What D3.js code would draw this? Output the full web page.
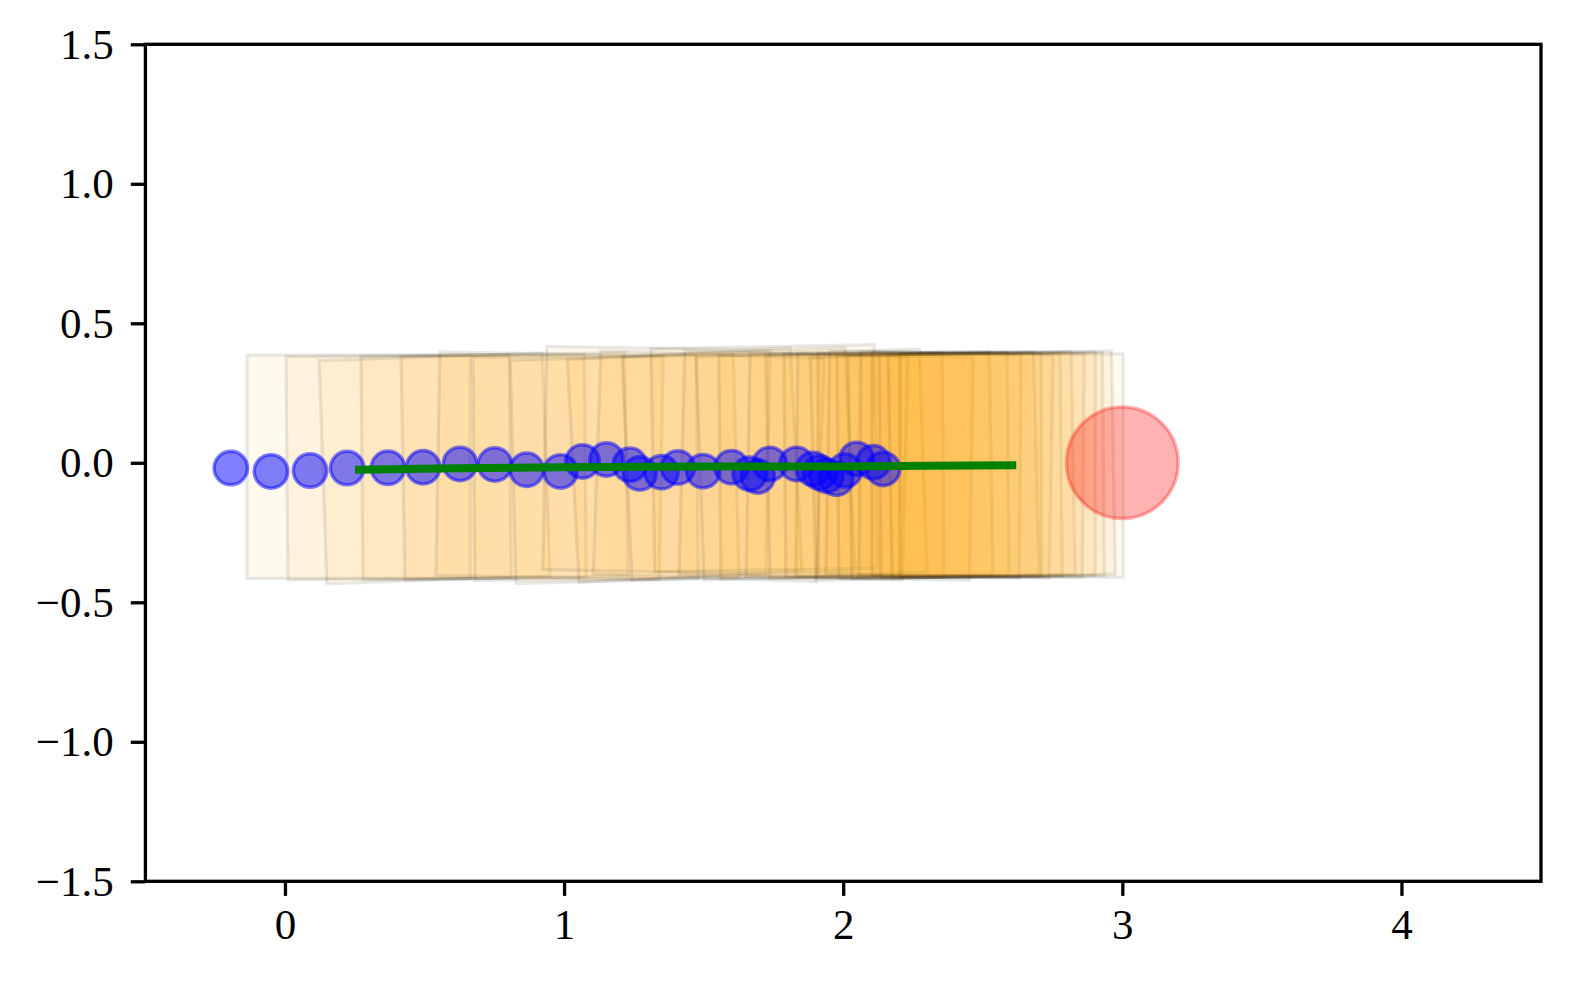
<!DOCTYPE html>
<html>
<head>
<meta charset="utf-8">
<script src="https://cdn.jsdelivr.net/npm/d3@7"></script>
<style>
  html, body { margin: 0; padding: 0; background: #fff; }
  svg { display: block; }
</style>
</head>
<body>
<script>
const width = 1570;
const height = 982;

// blue markers
const circleX = [-0.194, -0.050, 0.090, 0.223, 0.369, 0.495, 0.627, 0.752, 0.866, 0.987,
  1.066, 1.152, 1.236, 1.271, 1.349, 1.408, 1.498, 1.600, 1.665, 1.694,
  1.737, 1.833, 1.892, 1.916, 1.940, 1.976, 2.006, 2.048, 2.108, 2.143];
const circleY = [-0.019, -0.031, -0.028, -0.019, -0.018, -0.016, -0.004, -0.006, -0.025, -0.031,
  0.005, 0.012, -0.007, -0.038, -0.034, -0.017, -0.030, -0.016, -0.039, -0.049,
  -0.004, -0.004, -0.022, -0.035, -0.046, -0.057, -0.028, 0.014, 0.002, -0.022];

// footprint poses (centre x, centre y, heading in degrees)
const poseX = [0.264, 0.407, 0.536, 0.676, 0.823, 0.948, 1.077, 1.217, 1.331, 1.432,
  1.518, 1.625, 1.718, 1.822, 1.887, 1.958, 2.059, 2.130, 2.191, 2.234,
  2.292, 2.310, 2.345, 2.381, 2.424, 2.460, 2.503, 2.532, 2.568, 2.603];
const poseY = [-0.014, -0.016, -0.020, -0.015, -0.012, -0.010, -0.018, -0.022, 0.010, -0.008,
  -0.012, -0.004, 0.016, -0.010, -0.006, -0.012, -0.014, -0.008, -0.006, -0.010,
  -0.012, -0.008, -0.006, -0.010, -0.008, -0.006, -0.004, -0.008, -0.006, -0.010];
const poseAngle = [0, 0.5, 2, 0.5, 1, -1, 0.5, 1.5, -1, 3,
  -2, 2.5, 1, -1.5, 2, 0.5, -1, 1, 0.5, -0.5,
  1.5, 0, -1, 0.5, 1, -0.5, 0, 0.5, 1, 0];

// green path
const pathX = [0.251, 0.55, 1.0, 1.5, 2.0, 2.3, 2.62];
const pathY = [-0.025, -0.020, -0.016, -0.013, -0.013, -0.011, -0.009];

// goal
const goalX = 3.0, goalY = 0.0, goalR = 0.2;

const xTicks = [0, 1, 2, 3, 4];
const yTicks = [-1.5, -1.0, -0.5, 0.0, 0.5, 1.0, 1.5];

const x = d3.scaleLinear().domain([-0.5, 4.5]).range([145.4, 1541]);
const y = d3.scaleLinear().domain([-1.5, 1.5]).range([881.3, 44.3]);
const unit = x(1) - x(0);

const rectLen = 0.8, rectWid = 0.8;
const markerR = 0.06;

const svg = d3.select("body").append("svg")
    .attr("width", width)
    .attr("height", height)
    .style("background", "#fff");

// footprints
const poses = poseX.map((d, i) => ({x: d, y: poseY[i], a: poseAngle[i]}));
svg.append("g")
  .selectAll("g")
  .data(poses)
  .join("g")
    .attr("transform", d => `translate(${x(d.x)},${y(d.y)}) rotate(${-d.a})`)
  .append("rect")
    .attr("x", -rectLen / 2 * unit)
    .attr("y", -rectWid / 2 * unit)
    .attr("width", rectLen * unit)
    .attr("height", rectWid * unit)
    .attr("fill", "orange")
    .attr("fill-opacity", 0.065)
    .attr("stroke", "black")
    .attr("stroke-opacity", 0.085)
    .attr("stroke-width", 3.3);

// blue markers
const circles = circleX.map((d, i) => ({x: d, y: circleY[i]}));
svg.append("g")
  .selectAll("circle")
  .data(circles)
  .join("circle")
    .attr("cx", d => x(d.x))
    .attr("cy", d => y(d.y))
    .attr("r", markerR * unit)
    .attr("fill", "blue")
    .attr("fill-opacity", 0.5)
    .attr("stroke", "blue")
    .attr("stroke-opacity", 0.5)
    .attr("stroke-width", 3.5);

// path
const line = d3.line().x(d => x(d[0])).y(d => y(d[1]));
svg.append("path")
    .datum(pathX.map((d, i) => [d, pathY[i]]))
    .attr("d", line)
    .attr("fill", "none")
    .attr("stroke", "green")
    .attr("stroke-width", 8)
    .attr("stroke-linejoin", "round");

// goal
svg.append("circle")
    .attr("cx", x(goalX))
    .attr("cy", y(goalY))
    .attr("r", goalR * unit)
    .attr("fill", "red")
    .attr("fill-opacity", 0.3)
    .attr("stroke", "red")
    .attr("stroke-opacity", 0.3)
    .attr("stroke-width", 3.5);

// axes
const font = "'Liberation Serif', 'DejaVu Serif', serif";
const xAxis = svg.append("g")
    .attr("transform", `translate(0,${y(-1.5)})`)
    .call(d3.axisBottom(x).tickValues(xTicks).tickFormat(d3.format("d"))
      .tickSize(14.6).tickSizeOuter(0).tickPadding(13));
const yAxis = svg.append("g")
    .attr("transform", `translate(${x(-0.5)},0)`)
    .call(d3.axisLeft(y).tickValues(yTicks).tickFormat(d3.format(".1f"))
      .tickSize(14.6).tickSizeOuter(0).tickPadding(17));

[xAxis, yAxis].forEach(g => {
  g.select(".domain").remove();
  g.selectAll(".tick line").attr("stroke", "#000").attr("stroke-width", 3.3);
  g.selectAll(".tick text")
    .attr("fill", "#000")
    .style("font-family", font)
    .style("font-size", "43px");
});

// frame
svg.append("rect")
    .attr("x", x(-0.5))
    .attr("y", y(1.5))
    .attr("width", x(4.5) - x(-0.5))
    .attr("height", y(-1.5) - y(1.5))
    .attr("fill", "none")
    .attr("stroke", "#000")
    .attr("stroke-width", 3.3);
</script>
</body>
</html>
